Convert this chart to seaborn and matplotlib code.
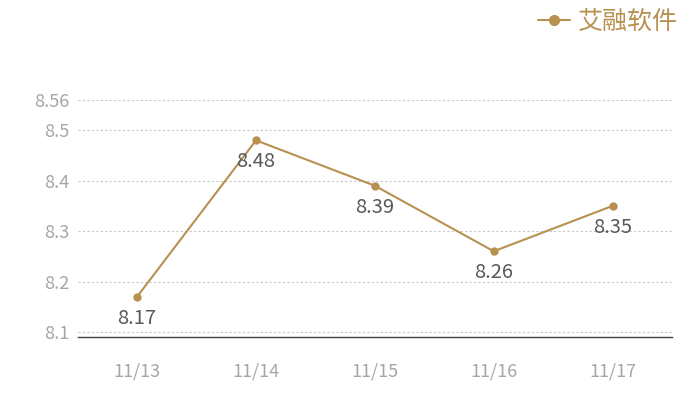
import matplotlib
matplotlib.use("Agg")
import matplotlib.pyplot as plt
import seaborn as sns
import pandas as pd

# data
dates = ["11/13", "11/14", "11/15", "11/16", "11/17"]
values = [8.17, 8.48, 8.39, 8.26, 8.35]
series_name = "艾融软件"
yticks = [8.1, 8.2, 8.3, 8.4, 8.5, 8.56]

df = pd.DataFrame({"date": dates, "value": values, "name": series_name})

sns.set_style("white")
plt.rcParams["font.family"] = ["Noto Sans CJK SC", "DejaVu Sans"]

gold = "#B8904F"

fig = plt.figure(figsize=(7, 4), dpi=100)
ax = fig.add_axes([0.111, 0.1575, 0.849, 0.5925])

sns.lineplot(data=df, x="date", y="value", hue="name", palette=[gold],
             marker="o", markersize=6, markeredgewidth=0, linewidth=1.5,
             sort=False, ax=ax)

# value labels under each point
for i, v in enumerate(values):
    ax.annotate(f"{v:g}", (i, v), xytext=(0, -8), textcoords="offset points",
                ha="center", va="top", fontsize=14.5, color="#595959")

ax.set_xlim(-0.5, len(dates) - 0.5)
ax.set_ylim(8.09, 8.56)
ax.set_yticks(yticks)
ax.set_yticklabels([f"{t:g}" for t in yticks])
ax.yaxis.grid(True, linestyle=(0, (2, 2)), color="#c8c8c8", linewidth=0.8)
ax.xaxis.grid(False)
ax.tick_params(axis="both", length=0, labelsize=13, labelcolor="#a6a6a6")
ax.tick_params(axis="x", pad=18)
ax.tick_params(axis="y", pad=6)
ax.set_xlabel("")
ax.set_ylabel("")
for s in ["top", "right", "left"]:
    ax.spines[s].set_visible(False)
ax.spines["bottom"].set_color("#404040")
ax.spines["bottom"].set_linewidth(1)

leg = ax.legend(loc="upper right", bbox_to_anchor=(1.0, 1.035), bbox_transform=fig.transFigure,
                frameon=False, fontsize=18, handlelength=1.3, handletextpad=0.3)
for t in leg.get_texts():
    t.set_color(gold)
for h in leg.legend_handles:
    h.set_markersize(8)

fig.savefig("out.png", dpi=100)
